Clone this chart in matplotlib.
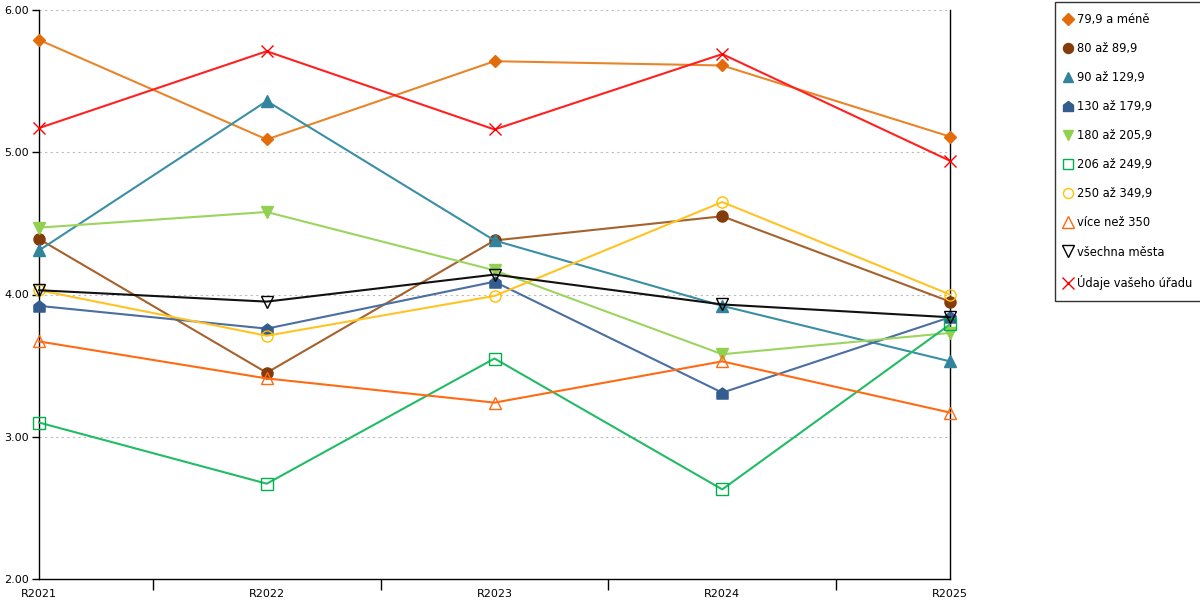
import numpy as np
import matplotlib.pyplot as plt
from matplotlib.path import Path
from matplotlib.lines import Line2D

years = ["R2021", "R2022", "R2023", "R2024", "R2025"]

names = ["79,9 a méně", "80 až 89,9", "90 až 129,9", "130 až 179,9", "180 až 205,9",
         "206 až 249,9", "250 až 349,9", "více než 350", "všechna města", "Údaje vašeho úřadu"]

v_79 = [5.79, 5.09, 5.64, 5.61, 5.11]
v_80 = [4.39, 3.45, 4.38, 4.55, 3.95]
v_90 = [4.31, 5.36, 4.38, 3.92, 3.53]
v_130 = [3.92, 3.76, 4.09, 3.31, 3.84]
v_180 = [4.47, 4.58, 4.17, 3.58, 3.73]
v_206 = [3.10, 2.67, 3.55, 2.63, 3.79]
v_250 = [4.03, 3.71, 3.99, 4.65, 4.00]
v_350 = [3.67, 3.41, 3.24, 3.53, 3.17]
v_all = [4.03, 3.95, 4.14, 3.93, 3.84]
v_urad = [5.17, 5.71, 5.16, 5.69, 4.94]

house = Path([(-1, -1), (1, -1), (1, 0.25), (0, 1), (-1, 0.25), (-1, -1)],
             [Path.MOVETO, Path.LINETO, Path.LINETO, Path.LINETO, Path.LINETO, Path.CLOSEPOLY])

# (values, line colour, marker colour, marker, filled, size)
series = [
    (v_79, "#E8852A", "#E36C0A", "D", True, 6.5),
    (v_80, "#A5622D", "#843C0C", "o", True, 8),
    (v_90, "#3A8FA5", "#31849B", "^", True, 8.5),
    (v_130, "#4A6FA0", "#345C8E", house, True, 8),
    (v_180, "#9BD45E", "#92D050", "v", True, 8.5),
    (v_206, "#22BB66", "#00B050", "s", False, 8.5),
    (v_250, "#FFC424", "#FFC000", "o", False, 8),
    (v_350, "#FF6A13", "#FF6A13", "^", False, 9),
    (v_all, "#111111", "#000000", "v", False, 9),
    (v_urad, "#FF2020", "#FF0000", "x", False, 9),
]

fig = plt.figure(figsize=(12, 6), dpi=100)
ax = fig.add_axes([39 / 1200, 21 / 600, 911 / 1200, 569 / 600])
x = np.arange(len(years))

handles = []
for (vals, lc, mc, mk, filled, ms), name in zip(series, names):
    fc = mc if filled else "none"
    ax.plot(x, vals, color=lc, lw=1.5, marker=mk, ms=ms, mfc=fc, mec=mc, mew=1.0,
            clip_on=False, zorder=3)
    handles.append(Line2D([], [], linestyle="none", marker=mk, ms=ms * 0.9, mfc=fc, mec=mc,
                          mew=1.0, label=name))

ax.set_xlim(0, 4)
ax.set_ylim(2, 6)
ax.set_yticks([2, 3, 4, 5, 6])
ax.set_yticklabels(["2.00", "3.00", "4.00", "5.00", "6.00"])
ax.set_xticks(x)
ax.set_xticklabels(years)
ax.set_xticks([0.5, 1.5, 2.5, 3.5], minor=True)
ax.tick_params(axis="x", which="major", length=0, pad=7, labelsize=8)
ax.tick_params(axis="x", which="minor", length=8, width=1, direction="out")
ax.tick_params(axis="y", length=5, width=1, labelsize=8, pad=2)

for yv in [3, 4, 5, 6]:
    ax.axhline(yv, color="#bbbbbb", lw=0.8, ls=(0, (2, 3)), zorder=1)

ax.spines["top"].set_visible(False)
for s in ["left", "bottom", "right"]:
    ax.spines[s].set_color("black")
    ax.spines[s].set_linewidth(1)

leg = fig.legend(handles=handles, loc="upper left", bbox_to_anchor=(1055 / 1200, 0.997),
                 frameon=True, fancybox=False, fontsize=8.3, labelspacing=1.39,
                 handlelength=0.2, handletextpad=0.7, borderpad=1.0, borderaxespad=0)
leg.get_frame().set_edgecolor("black")
leg.get_frame().set_linewidth(1)

fig.savefig("out.png", dpi=100)
